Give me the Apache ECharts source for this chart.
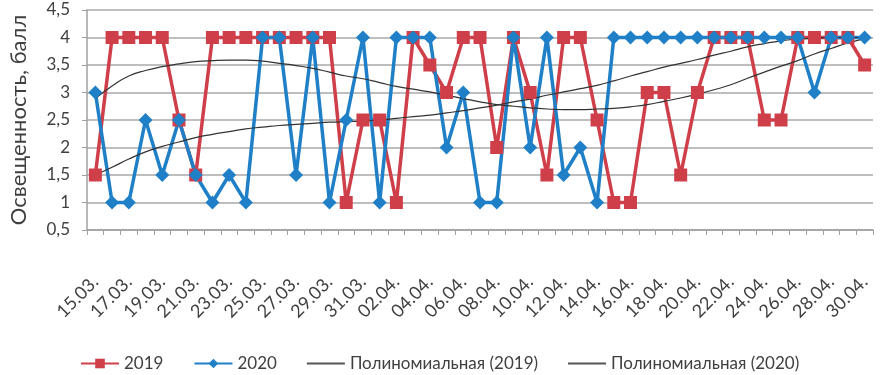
<!DOCTYPE html>
<html><head><meta charset="utf-8">
<script src="https://cdn.jsdelivr.net/npm/echarts@6/dist/echarts.min.js"></script>
<style>html,body{margin:0;padding:0;background:#fff}#c{width:881px;height:375px}</style>
</head><body><div id="c"></div>
<script>
const categories = ["15.03.","16.03.","17.03.","18.03.","19.03.","20.03.","21.03.","22.03.","23.03.","24.03.","25.03.","26.03.","27.03.","28.03.","29.03.","30.03.","31.03.",
"01.04.","02.04.","03.04.","04.04.","05.04.","06.04.","07.04.","08.04.","09.04.","10.04.","11.04.","12.04.","13.04.","14.04.","15.04.","16.04.","17.04.","18.04.","19.04.","20.04.","21.04.","22.04.","23.04.","24.04.","25.04.","26.04.","27.04.","28.04.","29.04.","30.04."];
const values2019 = [1.5,4,4,4,4,2.5,1.5,4,4,4,4,4,4,4,4,1,2.5,2.5,1,4,3.5,3,4,4,2,4,3,1.5,4,4,2.5,1,1,3,3,1.5,3,4,4,4,2.5,2.5,4,4,4,4,3.5];
const values2020 = [3,1,1,2.5,1.5,2.5,1.5,1,1.5,1,4,4,1.5,4,1,2.5,4,1,4,4,4,2,3,1,1,4,2,4,1.5,2,1,4,4,4,4,4,4,4,4,4,4,4,4,3,4,4,4];
const trend2019 = [2.89,3.12,3.30,3.40,3.47,3.52,3.56,3.58,3.59,3.59,3.57,3.53,3.49,3.44,3.37,3.30,3.25,3.18,3.11,3.06,3.01,2.95,2.89,2.83,2.78,2.75,2.72,2.70,2.69,2.69,2.70,2.71,2.74,2.78,2.84,2.90,2.97,3.05,3.14,3.26,3.37,3.48,3.58,3.70,3.80,3.90,3.98];
const trend2020 = [1.50,1.64,1.79,1.92,2.02,2.10,2.18,2.24,2.29,2.34,2.37,2.40,2.42,2.44,2.46,2.47,2.48,2.50,2.53,2.56,2.59,2.63,2.67,2.72,2.77,2.83,2.88,2.95,3.01,3.07,3.13,3.21,3.30,3.38,3.46,3.53,3.60,3.68,3.75,3.83,3.89,3.94,3.97,3.99,4.00,4.00,4.00];
const seriesNames = ["2019","2020","Полиномиальная (2019)","Полиномиальная (2020)"];
const yTicks = {min:0.5, max:4.5, interval:0.5};

const FONT = 'Lato, "Noto Sans", sans-serif';
const RED = '#cf3f4a', BLUE = '#1f80c8', TXT = '#404040';
const LINE_ICON = 'path://M0,0H40V2H0Z';
const chart = echarts.init(document.getElementById('c'), null, {renderer:'canvas'});
chart.setOption({
  animation:false,
  textStyle:{fontFamily:FONT},
  grid:{left:82, right:8, top:10, bottom:145, containLabel:false},
  legend:{
    left:75, top:350, itemGap:30, itemWidth:38, itemHeight:12,
    textStyle:{fontSize:17, color:TXT, fontFamily:FONT},
    data:[
      {name:seriesNames[0]},
      {name:seriesNames[1]},
      {name:seriesNames[2], icon:LINE_ICON},
      {name:seriesNames[3], icon:LINE_ICON}
    ]
  },
  xAxis:{
    type:'category', data:categories, boundaryGap:true,
    axisLine:{lineStyle:{color:'#a0a0a0', width:1.5}},
    axisTick:{show:true, interval:0, length:5, lineStyle:{color:'#a0a0a0'}},
    axisLabel:{interval:1, rotate:45, margin:49, fontSize:18, color:TXT, fontFamily:FONT}
  },
  yAxis:{
    type:'value', min:yTicks.min, max:yTicks.max, interval:yTicks.interval,
    name:'Освещенность, балл', nameLocation:'middle', nameGap:57, nameRotate:90,
    nameTextStyle:{fontSize:22, color:TXT, fontFamily:FONT},
    axisLine:{show:true, lineStyle:{color:'#a0a0a0', width:1.5}},
    axisTick:{show:true, length:5, lineStyle:{color:'#a0a0a0'}},
    axisLabel:{fontSize:17, color:TXT, margin:17, formatter:v=>String(v).replace('.',',')},
    splitLine:{lineStyle:{color:'#a8a8a8', width:1.5}}
  },
  series:[
    {name:seriesNames[0], type:'line', data:values2019, symbol:'rect', symbolSize:13, showAllSymbol:true,
     lineStyle:{color:RED, width:3.5}, itemStyle:{color:RED}},
    {name:seriesNames[1], type:'line', data:values2020, symbol:'diamond', symbolSize:14, showAllSymbol:true,
     lineStyle:{color:BLUE, width:3.5}, itemStyle:{color:BLUE}},
    {name:seriesNames[2], type:'line', data:trend2019, symbol:'none', smooth:true,
     lineStyle:{color:'#333', width:1.2}, itemStyle:{color:'#555'}},
    {name:seriesNames[3], type:'line', data:trend2020, symbol:'none', smooth:true,
     lineStyle:{color:'#333', width:1.2}, itemStyle:{color:'#555'}}
  ]
});
</script></body></html>
